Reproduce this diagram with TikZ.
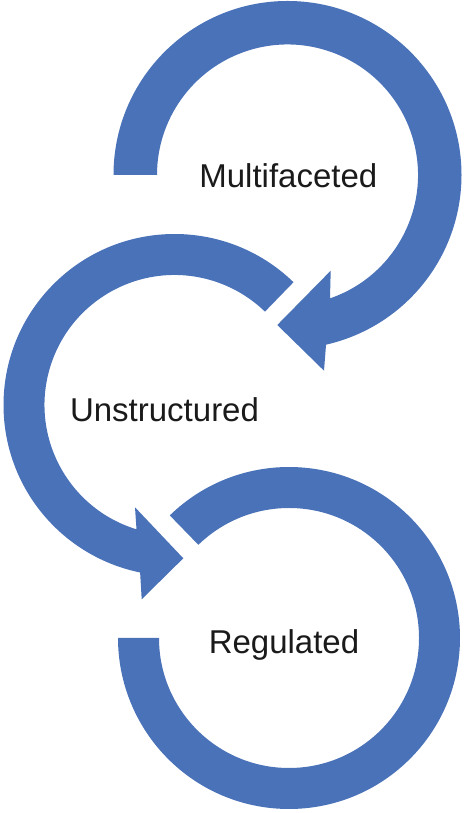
\documentclass[tikz,border=0pt]{standalone}
\usepackage{fontspec}
\setmainfont{Liberation Sans}
\usetikzlibrary{calc}
\definecolor{arrowblue}{HTML}{4A72B8}
\definecolor{labelink}{HTML}{1A1A1A}
\begin{document}
\begin{tikzpicture}[x=1pt,y=1pt,
  ringfill/.style={fill=arrowblue,draw=none},
  ringlabel/.style={anchor=base,inner sep=0pt,text=labelink,font=\fontsize{33}{38}\selectfont}]
\useasboundingbox (0,0) rectangle (464,813);
% centres
\coordinate (c1) at (287.5,638);
\coordinate (c2) at (174.5,408);
\coordinate (c3) at (289,175);
% arrowhead points of ring 1
\coordinate (w1a) at (330.7,542.3);
\coordinate (w1b) at (324,442.3);
\coordinate (t1) at (277.3,488);
% arrowhead points of ring 2
\coordinate (w2a) at (135,305.7);
\coordinate (w2b) at (141.7,213.7);
\coordinate (t2) at (183.3,254.7);
% ring 1 (Multifaceted)
\fill[ringfill] ($(c1)+(180:174)$) arc[start angle=180,end angle=-77.2,radius=174]
  -- (w1b) -- (t1) -- (w1a) -- ($(c1)+(-71:130.5)$)
  arc[start angle=-71,end angle=180,radius=130.5] -- cycle;
% ring 2 (Unstructured)
\fill[ringfill] ($(c2)+(45.9:171)$) arc[start angle=45.9,end angle=258.4,radius=171]
  -- (w2b) -- (t2) -- (w2a) -- ($(c2)+(253:130)$)
  arc[start angle=253,end angle=45.9,radius=130] -- cycle;
% ring 3 (Regulated)
\fill[ringfill] ($(c3)+(134.2:171)$) arc[start angle=134.2,end angle=-180,radius=171]
  -- ($(c3)+(180:130)$) arc[start angle=-180,end angle=134.2,radius=130] -- cycle;
% labels
\node[ringlabel] (multi) at (288.3,625.7) {Multifaceted};
\node[ringlabel] (unstr) at (164.5,391) {Unstructured};
\node[ringlabel] (regul) at (284,159.7) {Regulated};
\end{tikzpicture}
\end{document}
